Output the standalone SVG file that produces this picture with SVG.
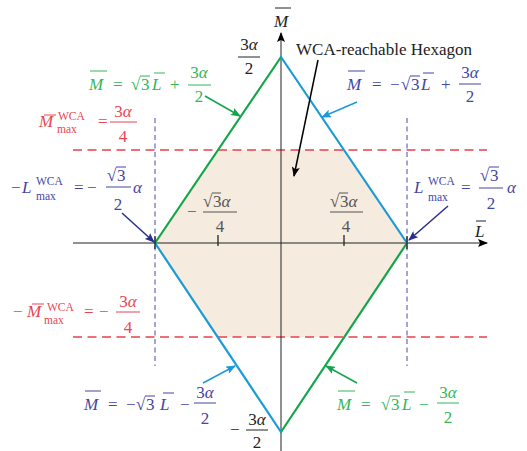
<svg xmlns="http://www.w3.org/2000/svg" width="527" height="451" viewBox="0 0 527 451">
<defs>
<marker id="ak" markerWidth="10" markerHeight="8" refX="9" refY="4" orient="auto" markerUnits="userSpaceOnUse"><path d="M0,0 L10,4 L0,8 L2,4 z" fill="#000"/></marker>
<marker id="ag" markerWidth="10" markerHeight="8" refX="9" refY="4" orient="auto" markerUnits="userSpaceOnUse"><path d="M0,0 L10,4 L0,8 L2,4 z" fill="#13a54a"/></marker>
<marker id="ab" markerWidth="10" markerHeight="8" refX="9" refY="4" orient="auto" markerUnits="userSpaceOnUse"><path d="M0,0 L10,4 L0,8 L2,4 z" fill="#1c9ad6"/></marker>
<marker id="ad" markerWidth="10" markerHeight="8" refX="9" refY="4" orient="auto" markerUnits="userSpaceOnUse"><path d="M0,0 L10,4 L0,8 L2,4 z" fill="#2b2d8e"/></marker>
</defs>
<style>
text{font-family:"Liberation Serif","DejaVu Serif",serif;font-size:17px}
.i{font-style:italic}
.s{font-size:11.5px}
.c{text-anchor:middle}
.G{fill:#35b556}.G line{stroke:#35b556;stroke-width:1}
.B{fill:#4545a5}.B line{stroke:#4545a5;stroke-width:1}
.R{fill:#e84552}.R line{stroke:#e84552;stroke-width:1}
.K{fill:#222}.K line{stroke:#222;stroke-width:1}
.Y{fill:#555}.Y line{stroke:#555;stroke-width:1}
.arr{fill:none;stroke-width:1.5}
</style>
<polygon id="hexagon" points="155,243 218,150 344,150 407,243 344,337 218,337" fill="#f5ebdf"/>
<g id="guides" fill="none">
<line x1="155" y1="118" x2="155" y2="366" stroke="#4a4aa8" stroke-width="1" stroke-dasharray="5,3.5"/>
<line x1="407" y1="118" x2="407" y2="366" stroke="#4a4aa8" stroke-width="1" stroke-dasharray="5,3.5"/>
<line x1="73" y1="150" x2="487" y2="150" stroke="#e8414c" stroke-width="1.3" stroke-dasharray="9,5.5"/>
<line x1="73" y1="337" x2="487" y2="337" stroke="#e8414c" stroke-width="1.3" stroke-dasharray="9,5.5"/>
</g>
<g id="axes" fill="none" stroke="#222" stroke-width="1">
<line x1="73" y1="243" x2="487" y2="243" marker-end="url(#ak)"/>
<line x1="281" y1="451" x2="281" y2="33" marker-end="url(#ak)"/>
</g>
<g id="diamond" fill="none" stroke-width="2.2" stroke-linecap="round">
<line x1="155" y1="243" x2="281" y2="57" stroke="#13a54a"/>
<line x1="407" y1="243" x2="281" y2="432" stroke="#13a54a"/>
<line x1="281" y1="57" x2="407" y2="243" stroke="#1c9ad6"/>
<line x1="155" y1="243" x2="281" y2="432" stroke="#1c9ad6"/>
</g>
<g id="ticks" stroke="#222" stroke-width="1.3">
<line x1="218" y1="235" x2="218" y2="246"/>
<line x1="344" y1="235" x2="344" y2="246"/>
<line x1="155" y1="236" x2="155" y2="249"/>
<line x1="407" y1="236" x2="407" y2="249"/>
</g>
<g id="connectors">
<line class="arr" x1="205" y1="96" x2="240" y2="116" stroke="#13a54a" marker-end="url(#ag)"/>
<line class="arr" x1="357" y1="102" x2="322" y2="117" stroke="#1c9ad6" marker-end="url(#ab)"/>
<line class="arr" x1="318" y1="60" x2="294" y2="176" stroke="#000" stroke-width="1" marker-end="url(#ak)"/>
<line class="arr" x1="122" y1="213" x2="154" y2="242" stroke="#2b2d8e" marker-end="url(#ad)"/>
<line class="arr" x1="448" y1="206" x2="409" y2="240" stroke="#2b2d8e" marker-end="url(#ad)"/>
<line class="arr" x1="203" y1="383" x2="235" y2="366" stroke="#1c9ad6" marker-end="url(#ab)"/>
<line class="arr" x1="357" y1="383" x2="326" y2="366" stroke="#13a54a" marker-end="url(#ag)"/>
</g>
<g id="axis-M" class="K"><text class="i" x="274" y="27">M</text><line x1="275" y1="8" x2="291" y2="8"/></g>
<g id="axis-L" class="K"><text class="i" x="475" y="237">L</text><line x1="476" y1="221" x2="486" y2="221"/></g>
<g id="top-value" class="K"><text class="c" x="249" y="50">3<tspan class="i">α</tspan></text><line x1="238" y1="57" x2="260" y2="57"/><text class="c" x="249" y="74">2</text></g>
<g id="bottom-value" class="K"><text x="230" y="435">−</text><text class="c" x="257" y="425">3<tspan class="i">α</tspan></text><line x1="246" y1="430" x2="268" y2="430"/><text class="c" x="257" y="448">2</text></g>
<g id="hexagon-label" class="K"><text x="296" y="55" style="font-size:17px">WCA-reachable Hexagon</text></g>
<g id="label-green-top" class="G">
<text class="i" x="89" y="90">M</text><line x1="90" y1="71" x2="107" y2="71"/>
<text x="113" y="90">=</text>
<text x="131" y="90">√</text><text x="141" y="90">3</text><line x1="140" y1="76" x2="150" y2="76"/>
<text class="i" x="152" y="90">L</text><line x1="154" y1="73" x2="165" y2="73"/>
<text x="170" y="90">+</text>
<text class="c" x="199" y="78">3<tspan class="i">α</tspan></text><line x1="188" y1="85" x2="211" y2="85"/><text class="c" x="199" y="102">2</text>
</g>
<g id="label-blue-top" class="B">
<text class="i" x="347" y="90">M</text><line x1="348" y1="71" x2="365" y2="71"/>
<text x="372" y="90">=</text>
<text x="390" y="90">−</text>
<text x="401" y="90">√</text><text x="411" y="90">3</text><line x1="410" y1="76" x2="420" y2="76"/>
<text class="i" x="421" y="90">L</text><line x1="423" y1="73" x2="434" y2="73"/>
<text x="441" y="90">+</text>
<text class="c" x="470" y="78">3<tspan class="i">α</tspan></text><line x1="459" y1="84" x2="481" y2="84"/><text class="c" x="470" y="102">2</text>
</g>
<g id="label-red-top" class="R">
<text class="i" x="39" y="127">M</text><line x1="44" y1="115" x2="56" y2="115"/>
<text class="s" x="58" y="120">WCA</text><text class="s" x="57" y="133">max</text>
<text x="98" y="127">=</text>
<text class="c" x="123" y="117">3<tspan class="i">α</tspan></text><line x1="110" y1="122" x2="137" y2="122"/><text class="c" x="123" y="142">4</text>
</g>
<g id="label-blue-left" class="B">
<text x="11" y="193">−</text>
<text class="i" x="22" y="193">L</text>
<text class="s" x="36" y="185">WCA</text><text class="s" x="36" y="200">max</text>
<text x="74" y="193">=</text>
<text x="87" y="193">−</text>
<text x="107" y="181">√</text><text x="117" y="181">3</text><line x1="116" y1="167" x2="126" y2="167"/>
<line x1="106" y1="187" x2="131" y2="187"/><text class="c" x="118" y="210">2</text>
<text class="i" x="133" y="193">α</text>
</g>
<g id="label-blue-right" class="B">
<text class="i" x="414" y="193">L</text>
<text class="s" x="428" y="185">WCA</text><text class="s" x="428" y="201">max</text>
<text x="461" y="193">=</text>
<text x="480" y="181">√</text><text x="490" y="181">3</text><line x1="489" y1="167" x2="499" y2="167"/>
<line x1="479" y1="188" x2="503" y2="188"/><text class="c" x="491" y="209">2</text>
<text class="i" x="507" y="193">α</text>
</g>
<g id="label-red-bottom" class="R">
<text x="13" y="317">−</text>
<text class="i" x="27" y="317">M</text><line x1="32" y1="304" x2="44" y2="304"/>
<text class="s" x="47" y="311">WCA</text><text class="s" x="44" y="324">max</text>
<text x="84" y="317">=</text>
<text x="99" y="317">−</text>
<text class="c" x="128" y="307">3<tspan class="i">α</tspan></text><line x1="116" y1="312" x2="140" y2="312"/><text class="c" x="128" y="333">4</text>
</g>
<g id="label-blue-bottom" class="B">
<text class="i" x="84" y="410">M</text><line x1="85" y1="391" x2="101" y2="391"/>
<text x="108" y="410">=</text>
<text x="126" y="410">−</text>
<text x="136" y="410">√</text><text x="146" y="410">3</text><line x1="145" y1="396" x2="155" y2="396"/>
<text class="i" x="160" y="410">L</text><line x1="163" y1="393" x2="174" y2="393"/>
<text x="180" y="410">−</text>
<text class="c" x="205" y="398">3<tspan class="i">α</tspan></text><line x1="194" y1="403" x2="216" y2="403"/><text class="c" x="205" y="424">2</text>
</g>
<g id="label-green-bottom" class="G">
<text class="i" x="337" y="410">M</text><line x1="338" y1="391" x2="355" y2="391"/>
<text x="361" y="410">=</text>
<text x="381" y="410">√</text><text x="391" y="410">3</text><line x1="390" y1="396" x2="400" y2="396"/>
<text class="i" x="402" y="410">L</text><line x1="404" y1="392" x2="415" y2="392"/>
<text x="419" y="410">−</text>
<text class="c" x="448" y="398">3<tspan class="i">α</tspan></text><line x1="437" y1="403" x2="459" y2="403"/><text class="c" x="448" y="423">2</text>
</g>
<g id="tick-left-label" class="Y">
<text x="187" y="217">−</text>
<text x="203" y="207">√</text><text x="213" y="207">3<tspan class="i">α</tspan></text><line x1="212" y1="193" x2="221" y2="193"/>
<line x1="203" y1="212" x2="237" y2="212"/><text class="c" x="220" y="232">4</text>
</g>
<g id="tick-right-label" class="Y">
<text x="330" y="207">√</text><text x="340" y="207">3<tspan class="i">α</tspan></text><line x1="339" y1="193" x2="348" y2="193"/>
<line x1="330" y1="212" x2="363" y2="212"/><text class="c" x="346" y="232">4</text>
</g>
</svg>
